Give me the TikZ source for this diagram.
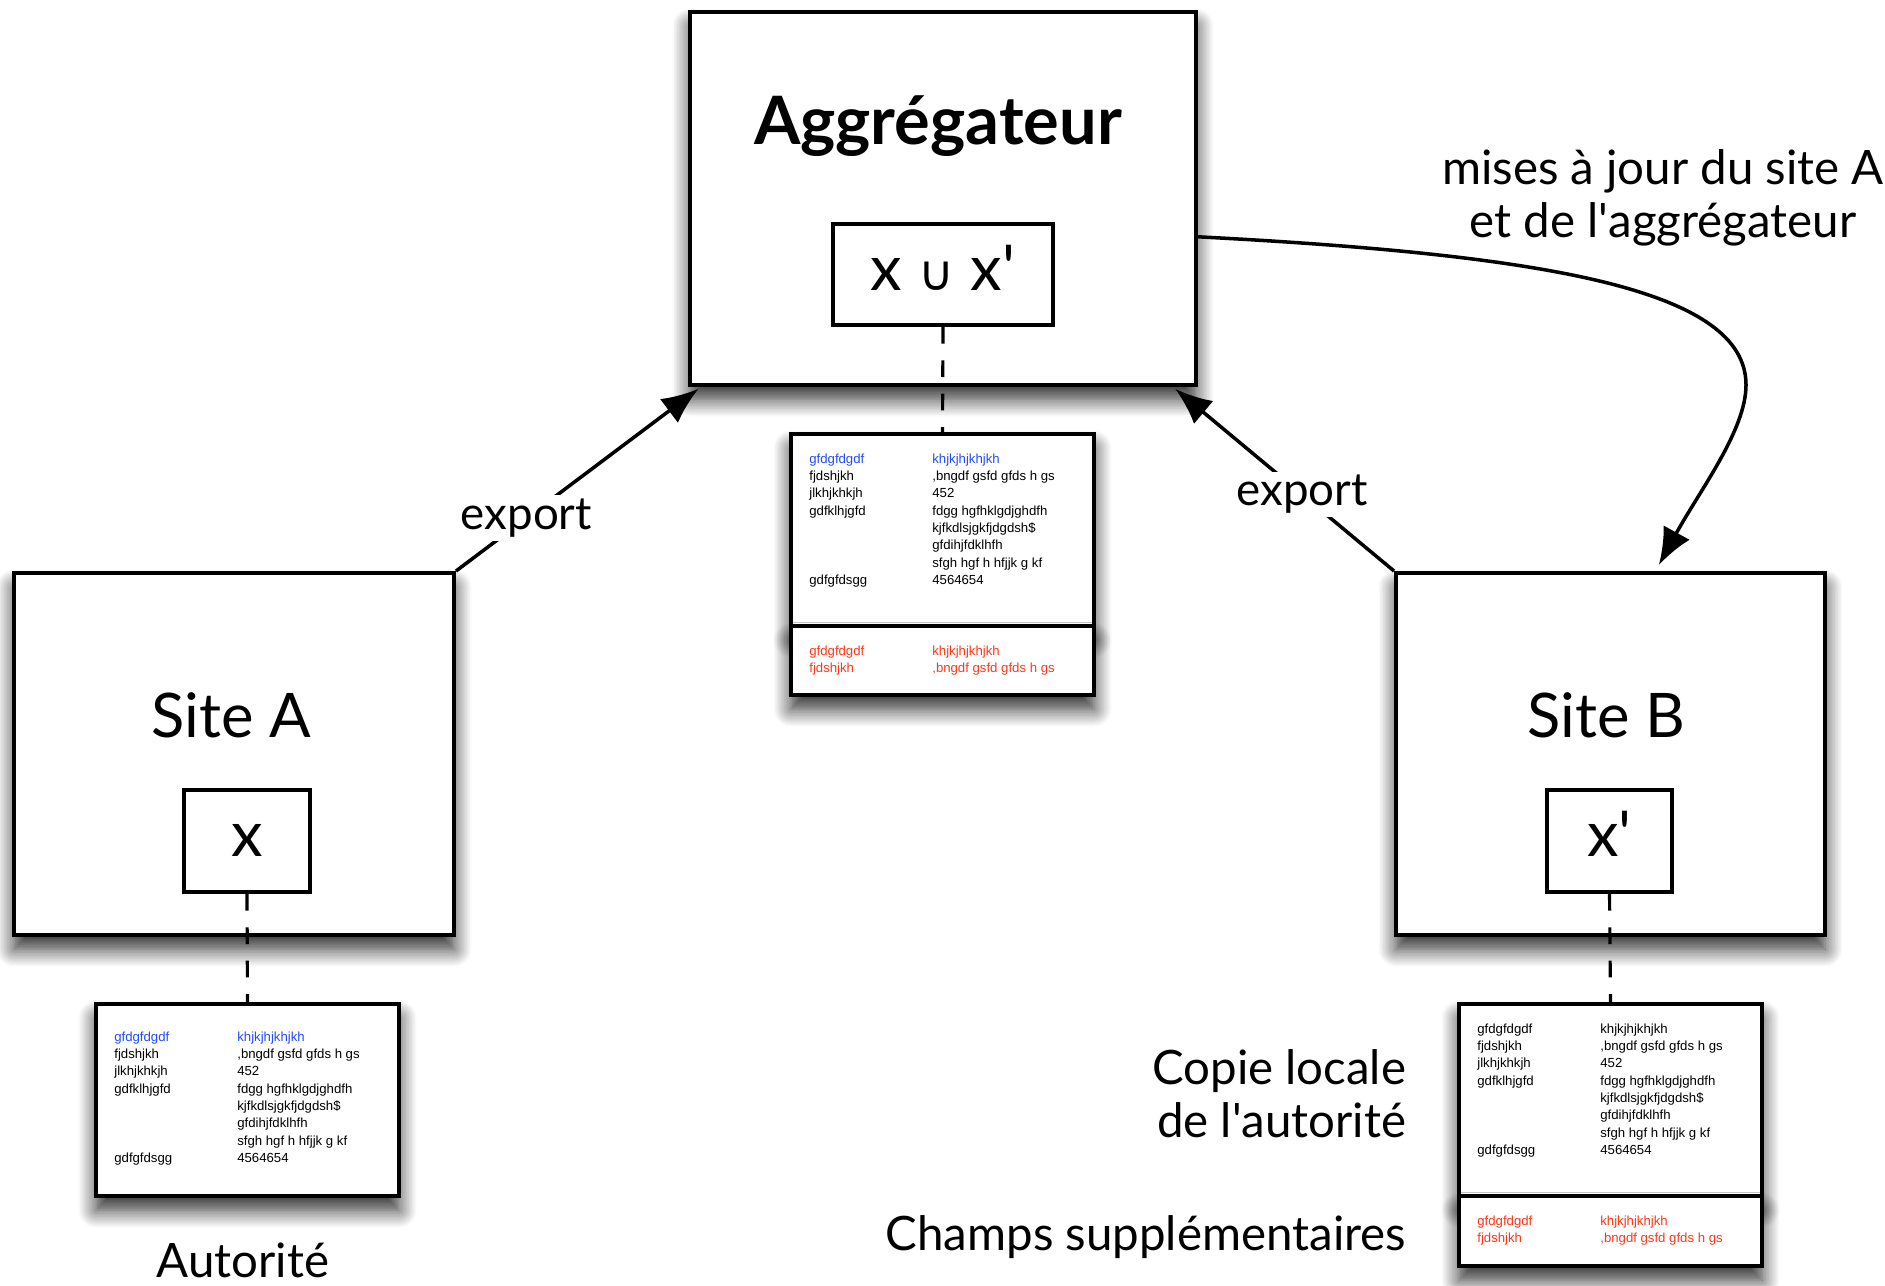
\documentclass[tikz,border=0pt]{standalone}
\usepackage{fontspec}
\setmainfont{Lato}
\newfontfamily\fichefont{Liberation Sans}
\newfontfamily\symbfont{DejaVu Sans}
\usetikzlibrary{arrows.meta,shadows.blur}
\definecolor{ficheblue}{RGB}{35,75,255}
\definecolor{fichered}{RGB}{255,55,25}

\newcommand{\fichehaut}[1]{%
\begin{tabular}[t]{@{}p{70pt}@{}l@{}}
\textcolor{#1}{gfdgfdgdf} & \textcolor{#1}{khjkjhjkhjkh}\\
fjdshjkh & ,bngdf gsfd gfds h gs\\
jlkhjkhkjh & 452\\
gdfklhjgfd & fdgg hgfhklgdjghdfh\\
 & kjfkdlsjgkfjdgdsh\$\\
 & gfdihjfdklhfh\\
 & sfgh hgf h hfjjk g kf\\
gdfgfdsgg & 4564654
\end{tabular}}
\newcommand{\fichebas}{%
\begin{tabular}[t]{@{}p{70pt}@{}l@{}}
gfdgfdgdf & khjkjhjkhjkh\\
fjdshjkh & ,bngdf gsfd gfds h gs
\end{tabular}}

\begin{document}
\begin{tikzpicture}[x=0.02cm, y=-0.02cm,
  boite/.style={draw, line width=2.3pt, fill=white, inner sep=0pt,
    blur shadow={shadow xshift=0pt, shadow yshift=-8pt, shadow blur radius=10pt, shadow blur steps=12, shadow opacity=85}},
  ensemble/.style={draw, line width=2.2pt, fill=white, inner sep=0pt, text height=18pt, text depth=0pt,
    font=\fontsize{36}{40}\selectfont},
  titre/.style={anchor=base, inner sep=0pt, font=\fontsize{35}{40}\selectfont},
  etiquette/.style={inner sep=2pt, font=\fontsize{27}{30}\selectfont},
  fichetxt/.style={anchor=base west, inner sep=0pt, font=\fichefont\fontsize{7.5}{9.9}\selectfont},
  lien/.style={line width=1.8pt, dash pattern=on 9.5pt off 9.5pt},
  fleche/.style={line width=2pt, -{Latex[length=21pt,width=17pt]}}]
\useasboundingbox (0,0) rectangle (1885,1285);

\node[boite, minimum width=10.12cm, minimum height=7.46cm] (agg) at (943,198.5) {};
\node[titre, font=\bfseries\fontsize{38}{42}\selectfont] (aggnom) at (938,144) {Aggrégateur};
\node[ensemble, minimum width=4.4cm, minimum height=2.02cm] (aggset) at (943,274.5) {x {\symbfont\fontsize{28}{32}\selectfont ∪} x\textquotesingle};

\node[boite, minimum width=8.8cm, minimum height=7.24cm] (siteA) at (234,754) {};
\node[titre] (siteAnom) at (231,737) {Site A};
\node[ensemble, minimum width=2.52cm, minimum height=2.04cm] (setA) at (247,841) {x};

\node[boite, minimum width=8.58cm, minimum height=7.24cm] (siteB) at (1610.5,754) {};
\node[titre] (siteBnom) at (1606,737) {Site B};
\node[ensemble, minimum width=2.5cm, minimum height=2.04cm] (setB) at (1609.5,841) {x\textquotesingle};

\node[boite, minimum width=6.06cm, minimum height=3.84cm] (aggtab) at (942.5,530) {};
\node[boite, minimum width=6.06cm, minimum height=1.38cm] (aggtabbas) at (942.5,660.5) {};
\node[fichetxt] (aggtxt) at (809,463) {\fichehaut{ficheblue}};
\node[fichetxt, text=fichered] (aggtxtbas) at (809,655) {\fichebas};

\node[boite, minimum width=6.06cm, minimum height=3.84cm] (tabA) at (247.5,1100) {};
\node[fichetxt] (txtA) at (114,1041) {\fichehaut{ficheblue}};

\node[boite, minimum width=6.06cm, minimum height=3.84cm] (tabB) at (1610.5,1100) {};
\node[boite, minimum width=6.06cm, minimum height=1.4cm] (tabBbas) at (1610.5,1231) {};
\node[fichetxt] (txtB) at (1477,1033) {\fichehaut{black}};
\node[fichetxt, text=fichered] (txtBbas) at (1477,1225) {\fichebas};

\draw[lien] (aggset.south) -- (aggtab.north);
\draw[lien] (setA.south) -- (tabA.north);
\draw[lien] (setB.south) -- (tabB.north);

\draw[fleche] (siteA.north east) -- node[etiquette, font=\fontsize{26}{30}\selectfont, fill=white, pos=.29] (exportA) {export} ([xshift=6pt,yshift=-1pt]agg.south west);
\draw[fleche] (siteB.north west) -- node[etiquette, font=\fontsize{26}{30}\selectfont, fill=white, pos=.42] (exportB) {export} ([xshift=-13pt,yshift=-1pt]agg.south east);

\coordinate (coude) at (1746,385);
\draw[fleche] ([yshift=-21.8pt]agg.east) .. controls (1550,255) and (1746,290) .. (coude)
  .. controls (1746,430) and (1700,490) .. ([xshift=27.5pt,yshift=3.4pt]siteB.north);
\node[etiquette, anchor=base, align=center] (maj) at (1663,237) {mises à jour du site A\\et de l\textquotesingle aggrégateur};

\node[etiquette, anchor=base east, align=right] (copie) at (1410,1137) {Copie locale\\de l\textquotesingle autorité};
\node[etiquette, anchor=base east] (champs) at (1410,1250) {Champs supplémentaires};
\node[etiquette, inner sep=0pt, anchor=base] (autorite) at (243,1277) {Autorité};
\end{tikzpicture}
\end{document}
